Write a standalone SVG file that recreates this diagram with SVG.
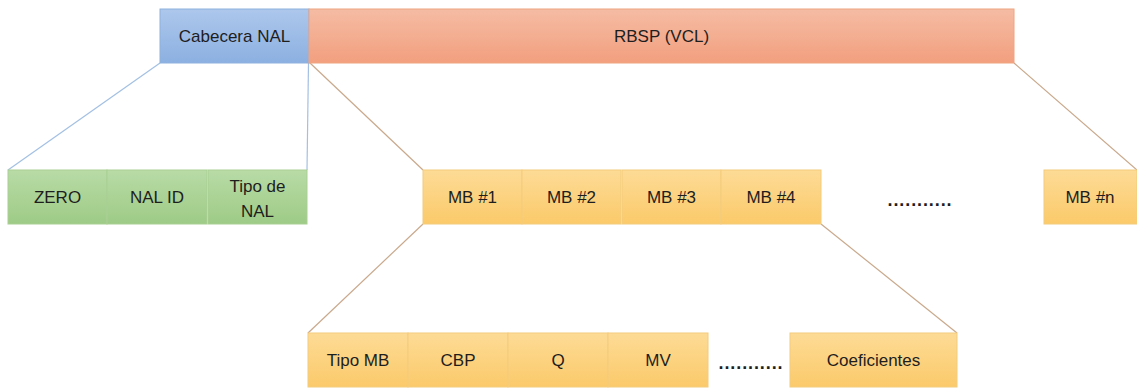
<svg xmlns="http://www.w3.org/2000/svg" width="1137" height="388" viewBox="0 0 1137 388">
  <defs>
    <linearGradient id="gBlue" x1="0" y1="0" x2="0" y2="1">
      <stop offset="0" stop-color="#adc7ec"/>
      <stop offset="1" stop-color="#8cb0e1"/>
    </linearGradient>
    <linearGradient id="gOrange" x1="0" y1="0" x2="0" y2="1">
      <stop offset="0" stop-color="#f5bca4"/>
      <stop offset="1" stop-color="#f29f7e"/>
    </linearGradient>
    <linearGradient id="gGreen" x1="0" y1="0" x2="0" y2="1">
      <stop offset="0" stop-color="#b9dba6"/>
      <stop offset="1" stop-color="#9ecb86"/>
    </linearGradient>
    <linearGradient id="gYellow" x1="0" y1="0" x2="0" y2="1">
      <stop offset="0" stop-color="#fddb96"/>
      <stop offset="1" stop-color="#fbca6a"/>
    </linearGradient>
    <style>
      .lbl { font-family: "Liberation Sans", Arial, sans-serif; font-size: 17px; fill: #1e1e1e; text-anchor: middle; }
      .dots { font-family: "Liberation Sans", Arial, sans-serif; font-size: 18px; font-weight: bold; fill: #1e1e1e; text-anchor: middle; letter-spacing: 0.9px; }
      .blue { fill: url(#gBlue); stroke: #8eb1de; stroke-width: 1; }
      .orange { fill: url(#gOrange); stroke: #f0a481; stroke-width: 1; }
      .green { fill: url(#gGreen); stroke: #a9cf94; stroke-width: 1; }
      .yellow { fill: url(#gYellow); stroke: #f3cc7c; stroke-width: 1; }
      .cb { stroke: #a3c0e3; stroke-width: 1.2; fill: none; }
      .co { stroke: #c9a98c; stroke-width: 1.2; fill: none; }
    </style>
  </defs>
  <rect width="1137" height="388" fill="#ffffff"/>

  <!-- connectors -->
  <g id="connectors">
    <line class="cb" x1="160" y1="63" x2="8" y2="170"/>
    <line class="cb" x1="308.5" y1="63" x2="307" y2="170"/>
    <line class="co" x1="310" y1="63" x2="423" y2="170"/>
    <line class="co" x1="1014" y1="63" x2="1137" y2="170"/>
    <line class="co" x1="423" y1="224" x2="308" y2="333"/>
    <line class="co" x1="821" y1="224" x2="957" y2="333"/>
  </g>

  <!-- top row: NAL unit -->
  <g id="cabecera-nal">
    <rect class="blue" x="160" y="9" width="149" height="54"/>
    <text class="lbl" x="234.5" y="42">Cabecera NAL</text>
  </g>
  <g id="rbsp">
    <rect class="orange" x="309" y="9" width="705" height="54"/>
    <text class="lbl" x="661.5" y="42">RBSP (VCL)</text>
  </g>

  <!-- NAL header fields -->
  <g id="zero">
    <rect class="green" x="8" y="170" width="99" height="54"/>
    <text class="lbl" x="57.5" y="203">ZERO</text>
  </g>
  <g id="nal-id">
    <rect class="green" x="107" y="170" width="100" height="54"/>
    <text class="lbl" x="157" y="203">NAL ID</text>
  </g>
  <g id="tipo-nal">
    <rect class="green" x="208" y="170" width="99" height="54"/>
    <text class="lbl" x="257.5" y="192">Tipo de</text>
    <text class="lbl" x="257.5" y="217">NAL</text>
  </g>

  <!-- macroblocks -->
  <g id="mb1">
    <rect class="yellow" x="423" y="170" width="99" height="54"/>
    <text class="lbl" x="472.5" y="203">MB #1</text>
  </g>
  <g id="mb2">
    <rect class="yellow" x="522" y="170" width="99" height="54"/>
    <text class="lbl" x="571.5" y="203">MB #2</text>
  </g>
  <g id="mb3">
    <rect class="yellow" x="622" y="170" width="99" height="54"/>
    <text class="lbl" x="671.5" y="203">MB #3</text>
  </g>
  <g id="mb4">
    <rect class="yellow" x="721" y="170" width="100" height="54"/>
    <text class="lbl" x="771" y="203">MB #4</text>
  </g>
  <g id="mb-dots">
    <text class="dots" x="920" y="206">...........</text>
  </g>
  <g id="mbn">
    <rect class="yellow" x="1044" y="170" width="93" height="54"/>
    <text class="lbl" x="1090" y="203">MB #n</text>
  </g>

  <!-- macroblock fields -->
  <g id="tipo-mb">
    <rect class="yellow" x="308" y="333" width="100" height="54"/>
    <text class="lbl" x="358" y="366">Tipo MB</text>
  </g>
  <g id="cbp">
    <rect class="yellow" x="408" y="333" width="100" height="54"/>
    <text class="lbl" x="458" y="366">CBP</text>
  </g>
  <g id="q">
    <rect class="yellow" x="508" y="333" width="100" height="54"/>
    <text class="lbl" x="558" y="366">Q</text>
  </g>
  <g id="mv">
    <rect class="yellow" x="608" y="333" width="100" height="54"/>
    <text class="lbl" x="658" y="366">MV</text>
  </g>
  <g id="field-dots">
    <text class="dots" x="751" y="369">...........</text>
  </g>
  <g id="coeficientes">
    <rect class="yellow" x="790" y="333" width="167" height="54"/>
    <text class="lbl" x="873.5" y="366">Coeficientes</text>
  </g>
</svg>
